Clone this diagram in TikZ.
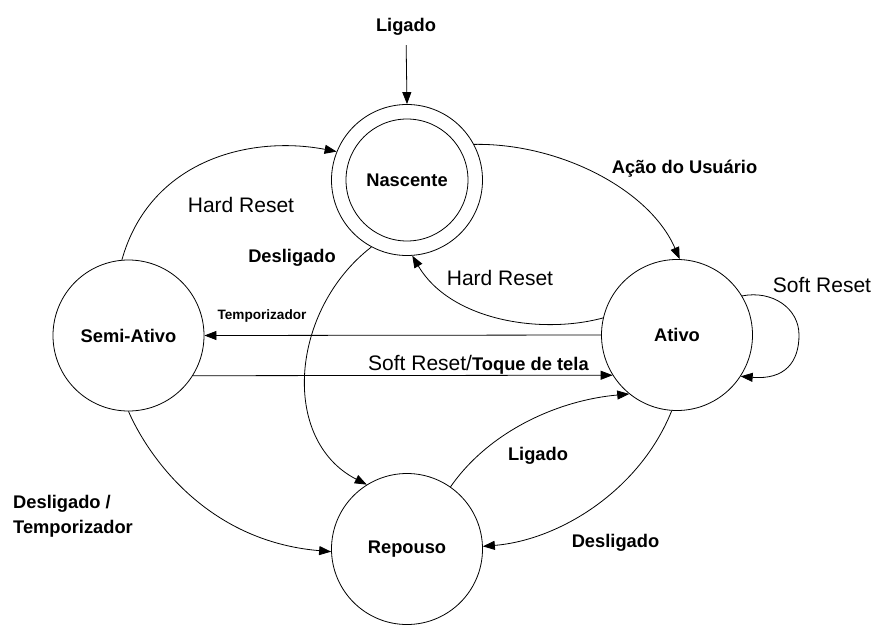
\documentclass[tikz,border=0pt]{standalone}
\usepackage{fontspec}
\setmainfont{Liberation Sans}
\usetikzlibrary{arrows.meta}
\begin{document}
\begin{tikzpicture}[x=1pt,y=-1pt,
  st/.style={circle, draw, line width=0.8pt, minimum size=151pt, inner sep=0pt,
    font=\fontsize{18.3}{22}\selectfont\bfseries},
  lb/.style={font=\fontsize{18.3}{22}\selectfont\bfseries, inner sep=0pt, anchor=base},
  lr/.style={font=\fontsize{21}{25}\selectfont, inner sep=0pt, anchor=base},
  ls/.style={font=\fontsize{13.6}{16}\selectfont\bfseries, inner sep=0pt, anchor=base},
  arr/.style={line width=0.8pt, -{Triangle[length=12pt,width=9pt]}}]
\fill[white] (0,0) rectangle (875,624);
\useasboundingbox (0,0) rectangle (875,624);

% states
\node[st] (nascente) at (407,180) {Nascente};
\draw[line width=0.8pt] (nascente.center) circle (61);
\node[st] (ativo) at (677,335) {Ativo};
\node[st] (semi) at (128.5,335.5) {Semi-Ativo};
\node[st] (repouso) at (407,549) {Repouso};

% labels
\node[lb] (ligtop) at (406,31) {Ligado};
\node[lb] (acao) at (684.5,173) {Ação do Usuário};
\node[lr] (hr1) at (241,212) {Hard Reset};
\node[lb] (desl1) at (292,262) {Desligado};
\node[lr] (hr2) at (500,285) {Hard Reset};
\node[ls] (temp) at (262,319) {Temporizador};
\node[lr, anchor=base west] (srt) at (368,370) {Soft Reset/{\fontsize{18.3}{22}\selectfont\bfseries Toque de tela}};
\node[lr] (sr) at (822,292) {Soft Reset};
\node[lb] (lig2) at (538,460) {Ligado};
\node[lb] (desl2) at (615.5,547) {Desligado};
\node[lb, anchor=base west] (dt1) at (13,508) {Desligado /};
\node[lb, anchor=base west] (dt2) at (13,533) {Temporizador};

% connectors
\draw[arr, shorten <=10pt] (ligtop.south) -- (nascente.north);
\draw[arr] (semi.95) .. controls (150,160) and (250,135) .. (nascente.158);
\draw[arr] (nascente.28) .. controls (560,143) and (650,190) .. (ativo.88);
\draw[arr] (ativo.167) .. controls (540,335) and (450,320) .. (nascente.-86);
\draw[arr] (nascente.-118) .. controls (290,310) and (280,440) .. (repouso.122);
\draw[arr] (ativo.180) -- (semi.0);
\draw[arr] (semi.-32) -- (ativo.-148);
\draw[arr] (ativo.31) .. controls (772,290) and (799,308) .. (799,335)
  .. controls (799,362) and (785,380) .. (ativo.-33);
\draw[arr] (repouso.55) .. controls (490,430) and (560,400) .. (ativo.-129);
\draw[arr] (ativo.-94) .. controls (640,490) and (560,540) .. (repouso.2);
\draw[arr] (semi.-90) .. controls (147,454) and (205,541) .. (repouso.182);
\end{tikzpicture}
\end{document}
